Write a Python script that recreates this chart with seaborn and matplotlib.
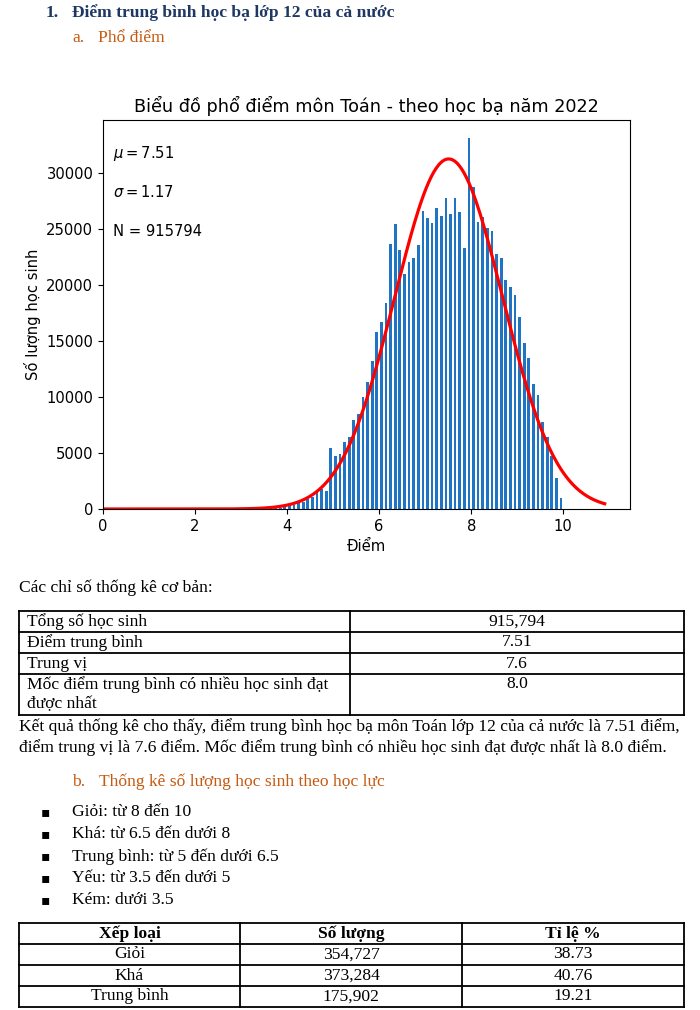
import numpy as np
import pandas as pd
import matplotlib
matplotlib.use("Agg")
import matplotlib.pyplot as plt
import seaborn as sns

# ---- dữ liệu phổ điểm (điểm TB học bạ môn Toán, bước 0.1) ----
scores = np.round(np.arange(31, 101) / 10, 1)  # 3.1 .. 10.0
counts = [5, 8, 10, 15, 25, 35, 50, 75, 100, 150,
          240, 330, 500, 640, 850, 1100, 1480, 1760, 1630, 5440,
          4730, 4940, 5975, 6420, 7900, 8500, 9950, 11300, 13200, 15780,
          16650, 18350, 23600, 25450, 23100, 20970, 22060, 22360, 23550, 26540,
          25980, 25475, 26810, 26100, 27745, 26300, 27715, 26520, 23280, 33050,
          28740, 25620, 26050, 25100, 24820, 22750, 22420, 20440, 19780, 19070,
          17170, 14800, 13490, 11130, 10170, 7780, 6380, 4700, 2760, 1000]
mu = 7.51
sigma = 1.17
n_total = 915794

# bảng chỉ số thống kê
stat_labels = ["Tổng số học sinh", "Điểm trung bình", "Trung vị",
               "Mốc điểm trung bình có nhiều học sinh đạt\nđược nhất"]
stat_values = ["915,794", "7.51", "7.6", "8.0"]

# bảng xếp loại
grade_header = ["Xếp loại", "Số lượng", "Tỉ lệ %"]
grade_names = ["Giỏi", "Khá", "Trung bình"]
grade_counts = [354727, 373284, 175902]
grade_pct = [38.73, 40.76, 19.21]

bullets = ["Giỏi: từ 8 đến 10", "Khá: từ 6.5 đến dưới 8",
           "Trung bình: từ 5 đến dưới 6.5", "Yếu: từ 3.5 đến dưới 5",
           "Kém: dưới 3.5"]

SERIF = ["Liberation Serif", "DejaVu Serif"]
NAVY = "#1F3763"
ORANGE = "#C55A11"
FS = 12.6
CFS = 10.6  # chữ nhỏ trong biểu đồ

fig = plt.figure(figsize=(7, 10.1), dpi=100)

# lớp phủ toạ độ pixel cho phần văn bản
ov = fig.add_axes([0, 0, 1, 1])
ov.set_xlim(0, 700)
ov.set_ylim(1010, 0)
ov.axis("off")

ov.text(46, 13, "1.", fontsize=FS, family=SERIF, weight="bold", color=NAVY, va="center")
ov.text(72, 13, "Điểm trung bình học bạ lớp 12 của cả nước", fontsize=FS, family=SERIF,
        weight="bold", color=NAVY, va="center")
ov.text(72, 38, "a.", fontsize=FS, family=SERIF, color=ORANGE, va="center")
ov.text(98, 38, "Phổ điểm", fontsize=FS, family=SERIF, color=ORANGE, va="center")

# ---- biểu đồ ----
ax = fig.add_axes([103 / 700, 1 - 509 / 1010, 527 / 700, 389 / 1010])
df = pd.DataFrame({"diem": scores - 0.05, "so_hs": counts})
sns.histplot(data=df, x="diem", weights="so_hs", binwidth=0.1, binrange=(3.0, 10.0),
             shrink=0.6, color="#1f74c4", alpha=1, linewidth=0, ax=ax)

xs = np.linspace(0, 10.9, 400)
ys = n_total * 0.1 / (sigma * np.sqrt(2 * np.pi)) * np.exp(-(xs - mu) ** 2 / (2 * sigma ** 2))
sns.lineplot(x=xs, y=ys, color="red", linewidth=2.3, ax=ax)

ax.set_xlim(0, 11.45)
ax.set_ylim(0, 34700)
ax.set_xticks([0, 2, 4, 6, 8, 10])
ax.tick_params(labelsize=CFS)
ax.set_title("Biểu đồ phổ điểm môn Toán - theo học bạ năm 2022", fontsize=12.7)
ax.set_xlabel("Điểm", fontsize=CFS)
ax.set_ylabel("Số lượng học sinh", fontsize=CFS)
ax.text(0.019, 0.915, r"$\mu=%.2f$" % mu, transform=ax.transAxes, fontsize=CFS, va="center")
ax.text(0.019, 0.814, r"$\sigma=%.2f$" % sigma, transform=ax.transAxes, fontsize=CFS, va="center")
ax.text(0.019, 0.713, "N = %d" % n_total, transform=ax.transAxes, fontsize=CFS, va="center")

# ---- bảng chỉ số ----
ov.text(19, 588, "Các chỉ số thống kê cơ bản:", fontsize=FS, family=SERIF, va="center")
t1_rows = [611, 632, 653, 674, 715]
t1_x = [19, 350, 684]
for y in t1_rows:
    ov.plot([t1_x[0], t1_x[-1]], [y, y], color="black", lw=1.3)
for x in t1_x:
    ov.plot([x, x], [t1_rows[0], t1_rows[-1]], color="black", lw=1.3)
for i, (lab, val) in enumerate(zip(stat_labels, stat_values)):
    top = t1_rows[i]
    parts = lab.split("\n")
    for j, part in enumerate(parts):
        ov.text(27, top + 10.5 + j * 20, part, fontsize=FS, family=SERIF, va="center")
    ov.text((t1_x[1] + t1_x[2]) / 2, top + 10.5, val, fontsize=FS, family=SERIF,
            ha="center", va="center")

ov.text(19, 727, "Kết quả thống kê cho thấy, điểm trung bình học bạ môn Toán lớp 12 của cả nước là 7.51 điểm,",
        fontsize=FS, family=SERIF, va="center")
ov.text(19, 748, "điểm trung vị là 7.6 điểm. Mốc điểm trung bình có nhiều học sinh đạt được nhất là 8.0 điểm.",
        fontsize=FS, family=SERIF, va="center")

ov.text(72, 782, "b.", fontsize=FS, family=SERIF, color=ORANGE, va="center")
ov.text(99, 782, "Thống kê số lượng học sinh theo học lực", fontsize=FS, family=SERIF,
        color=ORANGE, va="center")
for i, b in enumerate(bullets):
    y = 812.5 + i * 21.9
    ov.text(41, y, "▪", fontsize=10, family=["DejaVu Sans"], va="center")
    ov.text(72, y, b, fontsize=FS, family=SERIF, va="center")

# ---- bảng xếp loại ----
t2_rows = [923, 944, 965, 986, 1006.5]
t2_x = [19, 240, 462, 684]
for y in t2_rows:
    ov.plot([t2_x[0], t2_x[-1]], [y, y], color="black", lw=1.3)
for x in t2_x:
    ov.plot([x, x], [t2_rows[0], t2_rows[-1]], color="black", lw=1.3)
centers = [(t2_x[k] + t2_x[k + 1]) / 2 for k in range(3)]
for k, h in enumerate(grade_header):
    ov.text(centers[k], (t2_rows[0] + t2_rows[1]) / 2, h, fontsize=FS, family=SERIF,
            weight="bold", ha="center", va="center")
for i in range(len(grade_names)):
    yc = (t2_rows[i + 1] + t2_rows[i + 2]) / 2
    cells = [grade_names[i], f"{grade_counts[i]:,}", f"{grade_pct[i]:.2f}"]
    for k, c in enumerate(cells):
        ov.text(centers[k], yc, c, fontsize=FS, family=SERIF, ha="center", va="center")

fig.savefig("out.png", dpi=100)
